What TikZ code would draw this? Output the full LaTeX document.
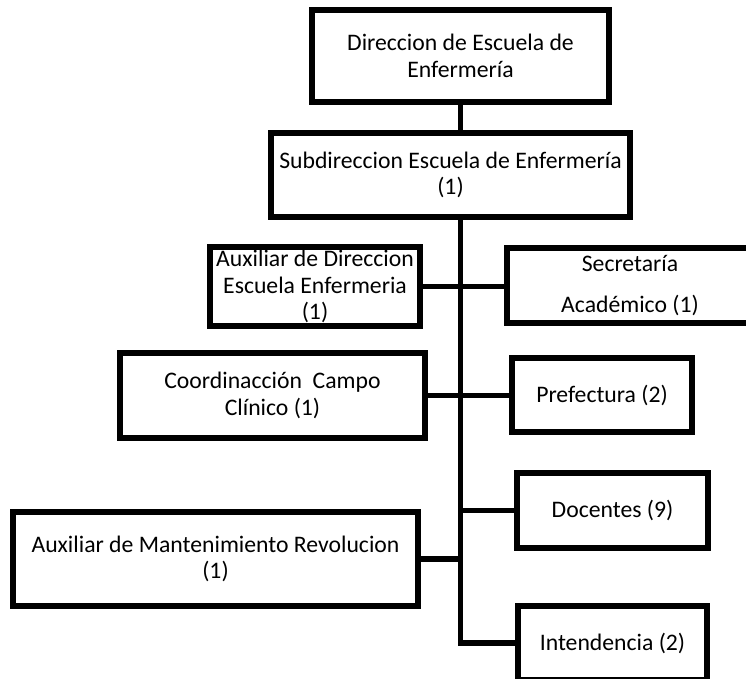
\documentclass[tikz,border=0pt]{standalone}
\usepackage{fontspec}
\setmainfont{Carlito}
\usetikzlibrary{positioning}

\tikzset{
  unitbox/.style={draw, line width=5.5pt, align=center, inner sep=0pt,
    font=\fontsize{23.7}{26.5}\selectfont},
  link/.style={line width=5.5pt}
}

\begin{document}
\begin{tikzpicture}[x=1pt, y=-1pt]
  \clip (0,0) rectangle (746,678);
  \fill[white] (0,0) rectangle (746,678);
  % top of the chart
  \node[unitbox, minimum width=297pt, minimum height=92pt] (dir) at (460.5,56)
    {Direccion de Escuela de\\Enfermería};
  \node[unitbox, minimum width=359pt, minimum height=84pt] (subdir) at (450.5,175)
    {Subdireccion Escuela de Enfermería\\(1)};
  % units on the left
  \node[unitbox, minimum width=210pt, minimum height=79pt] (auxdir) at (315,286.5)
    {Auxiliar de Direccion\\Escuela Enfermeria\\(1)};
  \node[unitbox, minimum width=305pt, minimum height=85pt] (coord) at (272.5,395.5)
    {Coordinacción\ \ Campo\\Clínico (1)};
  \node[unitbox, minimum width=405pt, minimum height=94pt] (auxmant) at (215.5,559)
    {Auxiliar de Mantenimiento Revolucion\\(1)};
  % units on the right
  \node[unitbox, minimum width=246pt, minimum height=75pt] (secre) at (630,285.5)
    {Secretaría\\[14pt]Académico (1)};
  \node[unitbox, minimum width=180pt, minimum height=74pt] (pref) at (602,395)
    {Prefectura (2)};
  \node[unitbox, minimum width=191pt, minimum height=75pt] (doc) at (612.5,510.5)
    {Docentes (9)};
  \node[unitbox, minimum width=189pt, minimum height=74pt] (intend) at (612.5,643)
    {Intendencia (2)};
  % connectors
  \coordinate (spine) at (dir.south |- subdir.south);
  \draw[link] (dir.south) -- (dir.south |- subdir.north);
  \draw[link] (spine) |- (intend.west);
  \draw[link] (auxdir.east) -- (auxdir.east -| secre.west);
  \draw[link] (coord.east) -- (coord.east -| pref.west);
  \draw[link] (doc.west) -- (doc.west -| spine);
  \draw[link] (auxmant.east) -- (auxmant.east -| spine);
\end{tikzpicture}
\end{document}
